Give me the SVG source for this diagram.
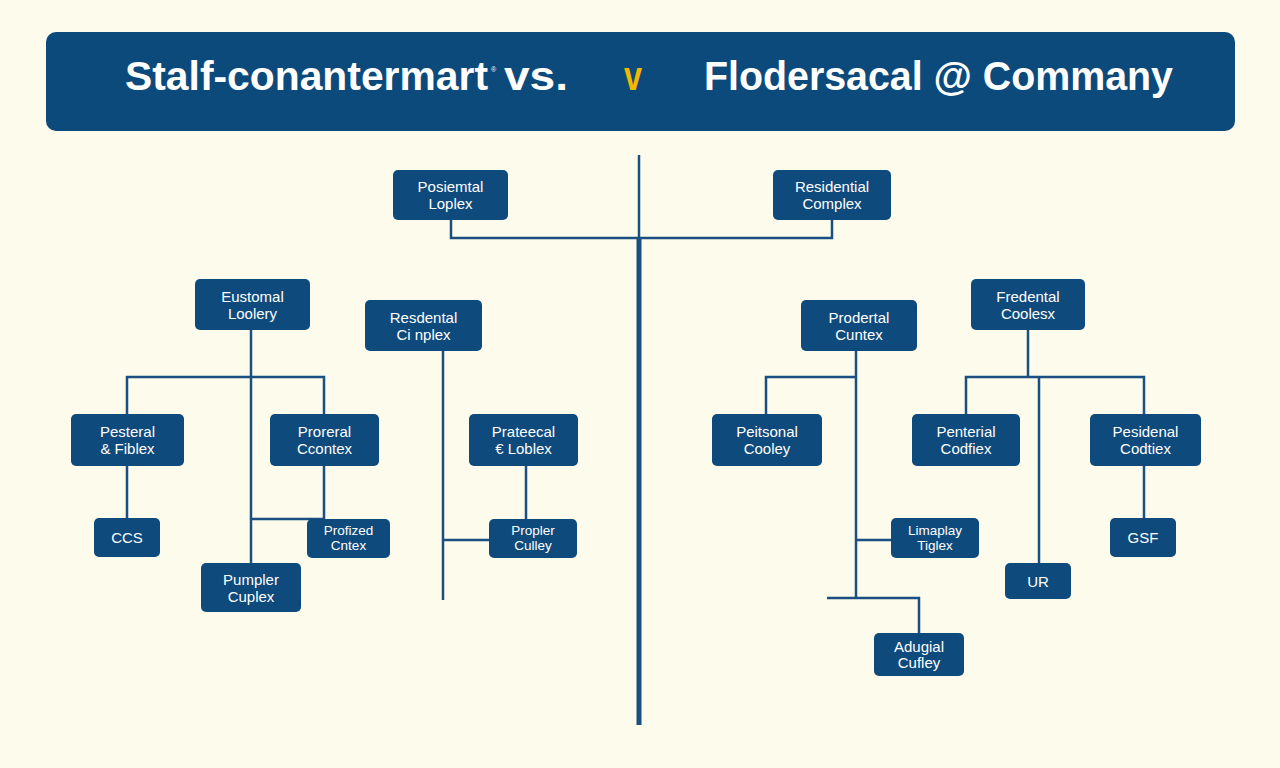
<svg xmlns="http://www.w3.org/2000/svg" width="1280" height="768" viewBox="0 0 1280 768">
<style>
.node rect{fill:#0e4a7c;}
.node text{fill:#ffffff;font-family:"Liberation Sans",Arial,sans-serif;font-size:15px;text-anchor:middle;}
.node.sm text{font-size:13.5px;}
.conn path{fill:none;stroke:#1b4f82;stroke-width:2.5;}
.title{font-family:"Liberation Sans",Arial,sans-serif;font-weight:bold;font-size:40px;fill:#ffffff;}
</style>
<rect x="0" y="0" width="1280" height="768" fill="#fdfbeb"/>
<g id="banner">
<rect x="46" y="32" width="1189" height="99" rx="10" fill="#0d4a7c"/>
<text class="title" x="125" y="90" textLength="363" lengthAdjust="spacingAndGlyphs">Stalf-conantermart</text>
<text x="491" y="72" font-family="Liberation Sans,Arial,sans-serif" font-size="7" fill="#ffffff">®</text>
<text class="title" x="504" y="90" textLength="64" lengthAdjust="spacingAndGlyphs">vs.</text>
<text class="title" x="624" y="90" textLength="18" lengthAdjust="spacingAndGlyphs" style="fill:#f2b800">v</text>
<text class="title" x="704" y="90" textLength="469" lengthAdjust="spacingAndGlyphs">Flodersacal @ Commany</text>
</g>
<g id="connectors" class="conn">
<path d="M639 155 V238"/>
<path d="M639 238 V725" style="stroke-width:5"/>
<path d="M451 220 V238 H832 V220"/>
<path d="M251 330 V563"/>
<path d="M127 414 V377 H324 V414"/>
<path d="M127 466 V518"/>
<path d="M324 466 V519"/>
<path d="M251 519 H324"/>
<path d="M443 351 V600"/>
<path d="M443 540 H489"/>
<path d="M526 466 V519"/>
<path d="M856 351 V598"/>
<path d="M766 414 V377 H856"/>
<path d="M856 540 H891"/>
<path d="M827 598 H919 V633"/>
<path d="M1028 330 V377"/>
<path d="M966 414 V377 H1144 V414"/>
<path d="M1039 377 V563"/>
<path d="M1144 466 V518"/>
</g>
<g id="n-posiemtal" class="node"><rect x="393" y="170" width="115" height="50" rx="5"/><text x="450.5" y="192">Posiemtal</text><text x="450.5" y="209">Loplex</text></g>
<g id="n-residential" class="node"><rect x="773" y="170" width="118" height="50" rx="5"/><text x="832" y="192">Residential</text><text x="832" y="209">Complex</text></g>
<g id="n-eustomal" class="node"><rect x="195" y="279" width="115" height="51" rx="5"/><text x="252.5" y="301.5">Eustomal</text><text x="252.5" y="318.5">Loolery</text></g>
<g id="n-resdental" class="node"><rect x="365" y="300" width="117" height="51" rx="5"/><text x="423.5" y="322.5">Resdental</text><text x="423.5" y="339.5">Ci nplex</text></g>
<g id="n-pesteral" class="node"><rect x="71" y="414" width="113" height="52" rx="5"/><text x="127.5" y="437">Pesteral</text><text x="127.5" y="454">&amp; Fiblex</text></g>
<g id="n-proreral" class="node"><rect x="270" y="414" width="109" height="52" rx="5"/><text x="324.5" y="437">Proreral</text><text x="324.5" y="454">Ccontex</text></g>
<g id="n-prateecal" class="node"><rect x="469" y="414" width="109" height="52" rx="5"/><text x="523.5" y="437">Prateecal</text><text x="523.5" y="454">€ Loblex</text></g>
<g id="n-ccs" class="node"><rect x="94" y="518" width="66" height="39" rx="5"/><text x="127" y="543">CCS</text></g>
<g id="n-profized" class="node sm"><rect x="307" y="519" width="83" height="39" rx="5"/><text x="348.5" y="535">Profized</text><text x="348.5" y="550">Cntex</text></g>
<g id="n-pumpler" class="node"><rect x="201" y="563" width="100" height="49" rx="5"/><text x="251" y="585">Pumpler</text><text x="251" y="601.5">Cuplex</text></g>
<g id="n-propler" class="node sm"><rect x="489" y="519" width="88" height="39" rx="5"/><text x="533" y="535">Propler</text><text x="533" y="550">Culley</text></g>
<g id="n-prodertal" class="node"><rect x="801" y="300" width="116" height="51" rx="5"/><text x="859" y="322.5">Prodertal</text><text x="859" y="339.5">Cuntex</text></g>
<g id="n-fredental" class="node"><rect x="971" y="279" width="114" height="51" rx="5"/><text x="1028" y="301.5">Fredental</text><text x="1028" y="318.5">Coolesx</text></g>
<g id="n-peitsonal" class="node"><rect x="712" y="414" width="110" height="52" rx="5"/><text x="767" y="437">Peitsonal</text><text x="767" y="454">Cooley</text></g>
<g id="n-penterial" class="node"><rect x="912" y="414" width="108" height="52" rx="5"/><text x="966" y="437">Penterial</text><text x="966" y="454">Codfiex</text></g>
<g id="n-pesidenal" class="node"><rect x="1090" y="414" width="111" height="52" rx="5"/><text x="1145.5" y="437">Pesidenal</text><text x="1145.5" y="454">Codtiex</text></g>
<g id="n-limaplay" class="node sm"><rect x="891" y="518" width="88" height="40" rx="5"/><text x="935" y="534.5">Limaplay</text><text x="935" y="549.5">Tiglex</text></g>
<g id="n-ur" class="node"><rect x="1005" y="563" width="66" height="36" rx="5"/><text x="1038" y="586.5">UR</text></g>
<g id="n-gsf" class="node"><rect x="1110" y="518" width="66" height="39" rx="5"/><text x="1143" y="543">GSF</text></g>
<g id="n-adugial" class="node"><rect x="874" y="633" width="90" height="43" rx="5"/><text x="919" y="652">Adugial</text><text x="919" y="667.5">Cufley</text></g>
</svg>
